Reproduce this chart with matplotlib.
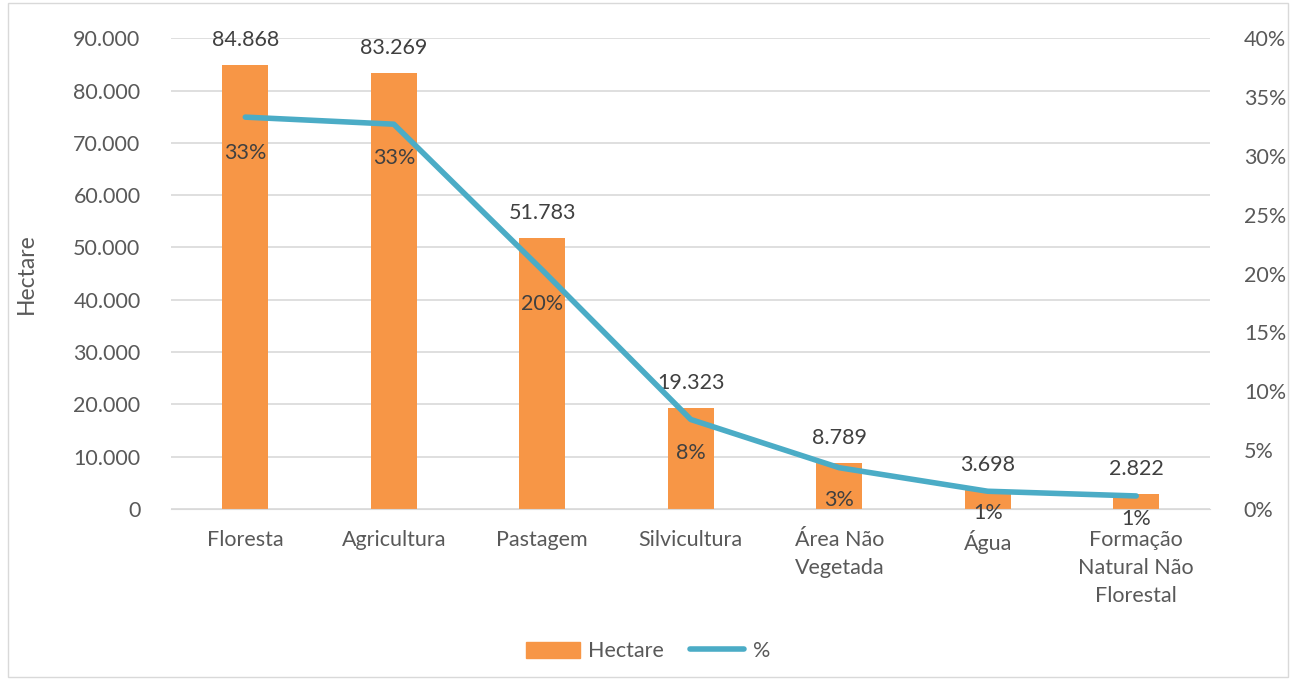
import matplotlib.pyplot as plt
from matplotlib.patches import Rectangle
from matplotlib.lines import Line2D
from matplotlib.ticker import FuncFormatter

# data
categorias = ["Floresta", "Agricultura", "Pastagem", "Silvicultura",
              "Área Não\nVegetada", "Água", "Formação\nNatural Não\nFlorestal"]
hectares = [84868, 83269, 51783, 19323, 8789, 3698, 2822]
percentual = [33.3, 32.7, 20.3, 7.6, 3.5, 1.5, 1.1]
pct_labels = ["33%", "33%", "20%", "8%", "3%", "1%", "1%"]

laranja = "#f79646"
azul = "#4bacc6"
cinza = "#595959"
fs = 15.5

plt.rcParams['font.family'] = ['Lato', 'DejaVu Sans']

def milhar(v, pos=None):
    return f"{int(v):,}".replace(",", ".")

fig = plt.figure(figsize=(12.96, 6.84), dpi=100)
ax = fig.add_axes([0.132, 0.256, 0.802, 0.688])
ax2 = ax.twinx()

x = list(range(len(categorias)))
ax.bar(x, hectares, width=0.31, color=laranja, zorder=2)
ax.set_xlim(-0.5, len(categorias) - 0.5)
ax.set_ylim(0, 90000)
ax.set_yticks(range(0, 90001, 10000))
ax.yaxis.set_major_formatter(FuncFormatter(milhar))
ax.grid(axis='y', color='#d9d9d9', linewidth=1.2, zorder=0)
ax.set_axisbelow(True)
ax.set_xticks(x)
ax.set_xticklabels(categorias, fontsize=fs, color=cinza, linespacing=1.5)
ax.tick_params(axis='both', length=0, labelsize=fs, labelcolor=cinza)
ax.tick_params(axis='x', pad=15)
ax.tick_params(axis='y', pad=22)
ax.set_ylabel("Hectare", fontsize=fs + 1, color=cinza, labelpad=26)
for s in ax.spines.values():
    s.set_visible(False)
ax.spines['bottom'].set_visible(True)
ax.spines['bottom'].set_color('#d9d9d9')
for xi, h in zip(x, hectares):
    ax.annotate(milhar(h), (xi, h), xytext=(0, 25), textcoords='offset pixels',
                ha='center', va='center', fontsize=fs, color='#404040')

ax2.plot(x, percentual, color=azul, linewidth=4, solid_capstyle='round', zorder=3)
ax2.set_ylim(0, 40)
ax2.set_yticks(range(0, 41, 5))
ax2.yaxis.set_major_formatter(FuncFormatter(lambda v, p: f"{int(v)}%"))
ax2.tick_params(axis='y', length=0, labelsize=fs, labelcolor=cinza, pad=24)
for s in ax2.spines.values():
    s.set_visible(False)
# label offsets below the points (last two sit closer to the line, as in Excel)
pct_offsets = [-36, -34, -34, -34, -32, -22, -23]
for xi, p, lab, off in zip(x, percentual, pct_labels, pct_offsets):
    ax2.annotate(lab, (xi, p), xytext=(0, off), textcoords='offset pixels',
                 ha='center', va='center', fontsize=fs, color='#404040')

handles = [Rectangle((0, 0), 1, 1, color=laranja),
           Line2D([0], [0], color=azul, linewidth=4, solid_capstyle='round')]
fig.legend(handles, ["Hectare", "%"], loc='center', bbox_to_anchor=(0.5, 0.048),
           ncol=2, frameon=False, fontsize=fs, labelcolor=cinza,
           handlelength=2.5, handleheight=0.75, columnspacing=1.2, handletextpad=0.4)

fig.patches.append(Rectangle((0.006, 0.01), 0.988, 0.985, transform=fig.transFigure,
                             fill=False, edgecolor='#d9d9d9', linewidth=1))

fig.savefig("out.png", dpi=100)
